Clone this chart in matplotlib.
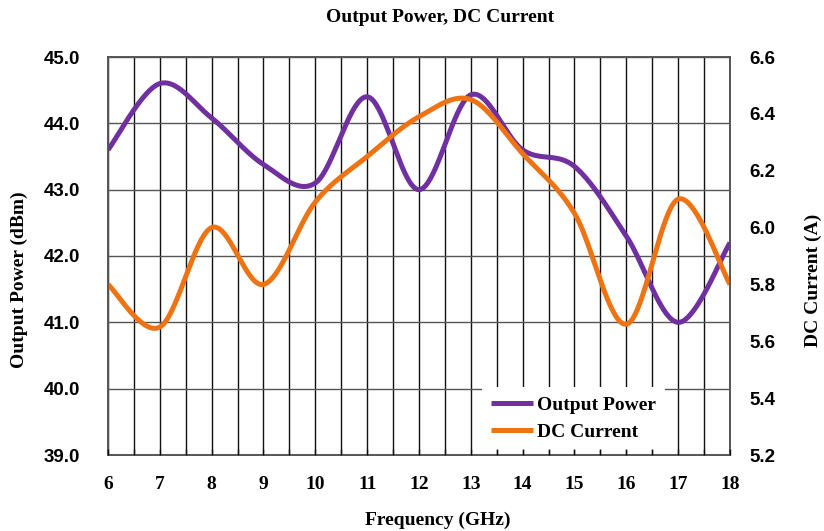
import numpy as np
import matplotlib
matplotlib.use("Agg")
import matplotlib.pyplot as plt
from matplotlib.ticker import MultipleLocator, FormatStrFormatter

freq = [6, 7, 8, 9, 10, 11, 12, 13, 14, 15, 16, 17, 18]
output_power = [43.6, 44.6, 44.08, 43.38, 43.1, 44.4, 43.0, 44.43, 43.6, 43.35, 42.3, 41.0, 42.2]
dc_current = [5.8, 5.65, 6.0, 5.8, 6.09, 6.25, 6.39, 6.45, 6.26, 6.05, 5.66, 6.1, 5.8]

x_ticks = [6, 7, 8, 9, 10, 11, 12, 13, 14, 15, 16, 17, 18]
left_ticks = [39.0, 40.0, 41.0, 42.0, 43.0, 44.0, 45.0]
right_ticks = [5.2, 5.4, 5.6, 5.8, 6.0, 6.2, 6.4, 6.6]

PURPLE = "#7030A0"
ORANGE = "#EE7413"
SERIF = "Liberation Serif"
SANS = "Liberation Sans"


def smooth(xs, ys, n=40):
    """Excel-style smoothed line (cubic Bezier / Catmull-Rom)."""
    xs = np.asarray(xs, float)
    ys = np.asarray(ys, float)
    P = np.column_stack([xs, ys])
    out = []
    for i in range(len(P) - 1):
        p0 = P[i - 1] if i > 0 else P[i]
        p1 = P[i]
        p2 = P[i + 1]
        p3 = P[i + 2] if i + 2 < len(P) else P[i + 1]
        c1 = p1 + (p2 - p0) / 6.0
        c2 = p2 - (p3 - p1) / 6.0
        t = np.linspace(0, 1, n)[:, None]
        seg = ((1 - t) ** 3) * p1 + 3 * ((1 - t) ** 2) * t * c1 + 3 * (1 - t) * t ** 2 * c2 + t ** 3 * p2
        out.append(seg if i == 0 else seg[1:])
    arr = np.vstack(out)
    return arr[:, 0], arr[:, 1]


rect = [108 / 824, 76 / 531, 622 / 824, 398 / 531]
fig = plt.figure(figsize=(8.24, 5.31), dpi=100)
ax = fig.add_axes(rect)
ax2 = ax.twinx()

sx, sy = smooth(freq, output_power)
l1, = ax.plot(sx, sy, color=PURPLE, lw=3.6, solid_capstyle="butt", label="Output Power")
cx, cy = smooth(freq, dc_current)
l2, = ax2.plot(cx, cy, color=ORANGE, lw=3.6, solid_capstyle="butt", label="DC Current")

ax.set_xlim(6, 18)
ax.set_ylim(39, 45)
ax2.set_ylim(5.2, 6.6)

ax.set_xticks(x_ticks)
ax.xaxis.set_minor_locator(MultipleLocator(0.5))
ax.set_yticks(left_ticks)
ax.yaxis.set_major_formatter(FormatStrFormatter("%.1f"))
ax2.set_yticks(right_ticks)
ax2.yaxis.set_major_formatter(FormatStrFormatter("%.1f"))

ax.grid(True, which="major", axis="y", color="#555555", lw=1.0)
ax.grid(True, which="both", axis="x", color="#111111", lw=1.0)
ax.tick_params(axis="x", which="both", length=0, pad=15)
ax.tick_params(axis="y", length=0, pad=20)
ax2.tick_params(axis="y", length=0, pad=14)

for a in (ax, ax2):
    for s in a.spines.values():
        s.set_color("#555555")
        s.set_linewidth(1.2)

for lab in ax.get_xticklabels():
    lab.set_fontfamily(SERIF)
    lab.set_fontweight("bold")
    lab.set_fontsize(14)
for lab in ax.get_yticklabels() + ax2.get_yticklabels():
    lab.set_fontfamily(SANS)
    lab.set_fontweight("bold")
    lab.set_fontsize(13.5)

ax.set_xlabel("Frequency (GHz)", fontfamily=SERIF, fontweight="bold", fontsize=14)
ax.xaxis.set_label_coords((438 - 108) / 622, (455 - 520) / 398)
ax.xaxis.label.set_va("center")
ax.set_ylabel("Output Power (dBm)", fontfamily=SERIF, fontweight="bold", fontsize=14)
ax.yaxis.set_label_coords((19 - 108) / 622, 0.44)
ax.yaxis.label.set_va("center")
ax2.set_ylabel("DC Current (A)", fontfamily=SERIF, fontweight="bold", fontsize=14)
ax2.yaxis.set_label_coords((813 - 108) / 622, 0.44)
ax2.yaxis.label.set_va("center")
fig.text(440 / 824, 1 - 18 / 531, "Output Power, DC Current", ha="center", va="center",
         fontfamily=SERIF, fontweight="bold", fontsize=14)

leg = ax.legend(handles=[l1, l2], loc="lower left", bbox_to_anchor=(0.601, 0.013),
                borderaxespad=0, frameon=True, fancybox=False, edgecolor="none",
                facecolor="white", framealpha=1, handlelength=2.2, handletextpad=0.2,
                borderpad=0.45, labelspacing=0.5,
                prop={"family": SERIF, "weight": "bold", "size": 14})
leg.set_zorder(5)

# overlay axes providing short inside ticks drawn above the legend
ax3 = fig.add_axes(rect, frameon=False)
ax3.set_xlim(6, 18)
ax3.set_ylim(0, 1)
ax3.set_xticks(np.arange(6, 18.01, 0.5))
ax3.set_yticks([])
ax3.tick_params(axis="x", direction="in", length=4, width=1, color="#111111",
                labelbottom=False, bottom=True, top=False)
ax3.patch.set_visible(False)

fig.savefig("out.png", dpi=100)
